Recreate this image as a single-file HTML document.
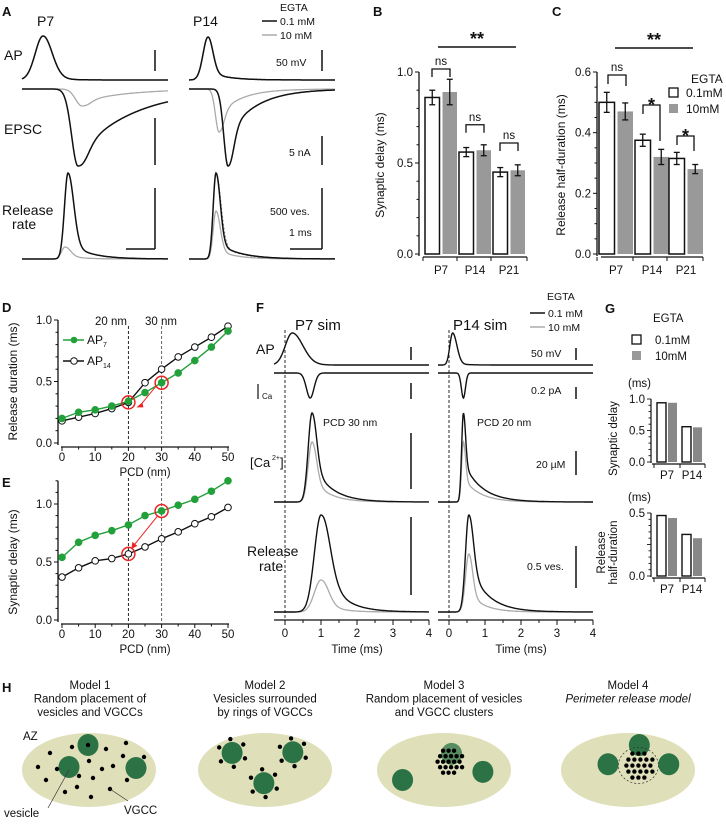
<!DOCTYPE html>
<html><head><meta charset="utf-8">
<style>
html,body{margin:0;padding:0;background:#fff;}
svg{display:block;font-family:"Liberation Sans",Arial,sans-serif;}
text{fill:#111;}
.pl{font-weight:bold;font-size:13px;}
.t{font-size:11.5px;}
.s{font-size:10.5px;}
</style></head>
<body>
<svg id="fig" width="726" height="824" viewBox="0 0 726 824" xmlns="http://www.w3.org/2000/svg">
<g id="A"></g>
<g id="B"></g>
<g id="C"></g>
<g id="D"></g>
<g id="E"></g>
<g id="F"></g>
<g id="G"></g>
<g id="H"></g>
</svg>
<script>
// ---------- data ----------
const barGroups = ["P7","P14","P21"];
const delayLow = [0.86,0.56,0.45];
const delayLowErr = [0.04,0.025,0.025];
const delayHigh = [0.89,0.57,0.46];
const delayHighErr = [0.07,0.03,0.03];
const halfLow = [0.50,0.375,0.315];
const halfLowErr = [0.033,0.02,0.02];
const halfHigh = [0.47,0.32,0.28];
const halfHighErr = [0.028,0.025,0.015];
const pcd = [0,5,10,15,20,25,30,35,40,45,50];
const durAP7 = [0.20,0.25,0.27,0.30,0.34,0.41,0.49,0.57,0.67,0.78,0.91];
const durAP14 = [0.18,0.21,0.24,0.28,0.33,0.49,0.60,0.70,0.78,0.86,0.95];
const delAP7 = [0.54,0.67,0.73,0.77,0.82,0.90,0.94,0.99,1.04,1.11,1.20];
const delAP14 = [0.37,0.45,0.51,0.53,0.57,0.63,0.70,0.76,0.83,0.89,0.97];
const simGroups = ["P7","P14"];
const simDelayLow = [0.94,0.56];
const simDelayHigh = [0.94,0.55];
const simHalfLow = [0.48,0.33];
const simHalfHigh = [0.46,0.30];
const yTicksB = ["0.0","0.5","1.0"];
const yTicksC = ["0.0","0.2","0.4","0.6"];
const xTicksDE = ["0","10","20","30","40","50"];
const xTicksF = ["0","1","2","3","4"];

const NS="http://www.w3.org/2000/svg";
function el(parent,tag,attrs,txt){const e=document.createElementNS(NS,tag);for(const k in attrs)e.setAttribute(k,attrs[k]);if(txt!==undefined)e.textContent=txt;parent.appendChild(e);return e;}
function line(p,x1,y1,x2,y2,st,w,extra){const e=el(p,'line',Object.assign({x1,y1,x2,y2,stroke:st||'#111','stroke-width':w||1},extra||{}));return e;}
function txt(p,x,y,s,cls,extra){const a=Object.assign({x,y,class:cls||'t'},extra||{});let st='';['font-size','font-weight','font-style'].forEach(k=>{if(a[k]!==undefined){st+=k+':'+a[k]+(k=='font-size'?'px':'')+';';delete a[k];}});if(st)a.style=st;return el(p,'text',a,s);}
function pulse(t,tp,sr,sf,tw,td){if(t<tp){return Math.exp(-Math.pow((t-tp)/sr,2));}const d=t-tp;const g2=Math.exp(-Math.pow(d/(sf*0.7),2));return (1-tw)*Math.exp(-Math.pow(d/sf,2))+tw*(Math.exp(-d/td)*(1-g2)+g2);}
function trace(p,x0,x1,base,amp,tp,sr,sf,tw,td,col,w,dash,name){let d='';for(let x=x0;x<=x1;x+=0.5){const y=base-amp*pulse(x,tp,sr,sf,tw,td);d+=(d?'L':'M')+x.toFixed(1)+','+y.toFixed(1);}const e=el(p,'path',{d,fill:'none',stroke:col,'stroke-width':w,'stroke-dasharray':dash||'none'});return e;}

// ---------- A ----------
(function(){const g=document.getElementById('A');
txt(g,2,16,'A','pl');txt(g,37,26,'P7','t',{'font-size':14});txt(g,193,26,'P14','t',{'font-size':14});
txt(g,280,11,'EGTA','s');line(g,262,21,277,21,'#111',1.5);txt(g,280,25,'0.1 mM','s');line(g,262,35,277,35,'#aaa',1.5);txt(g,280,39,'10 mM','s');
txt(g,4,60,'AP','t',{'font-size':14});txt(g,4,134,'EPSC','t',{'font-size':14});txt(g,2,215,'Release','t',{'font-size':14});txt(g,12,229,'rate','t',{'font-size':14});
// P7
trace(g,22,168,80,44,43,11,13,0.15,12,'#aaa',1.3,null,'p7-ap-10mm');
trace(g,22,168,80,44,43,11,13,0.15,12,'#111',1.5,null,'p7-ap-01mm');
trace(g,22,168,89,-17,82,9,12,0.75,45,'#aaa',1.3,null,'p7-epsc-10mm');
trace(g,22,168,89,-77,78,9,14,0.85,55,'#111',1.5,null,'p7-epsc-01mm');
trace(g,22,168,259,12,65,5,8,0.3,15,'#aaa',1.3,null,'p7-release-10mm');
trace(g,22,168,259,86,68,5,8,0.2,20,'#111',1.5,null,'p7-release-01mm');
// P14
trace(g,189,335,80,43,208,7,7,0.2,18,'#aaa',1.3,null,'p14-ap-10mm');
trace(g,189,335,80,43,208,7,7,0.2,18,'#111',1.5,null,'p14-ap-01mm');
trace(g,189,335,89,-43,219,5,7,0.6,22,'#aaa',1.3,null,'p14-epsc-10mm');
trace(g,189,335,89,-77,228,6,8,0.6,28,'#111',1.5,null,'p14-epsc-01mm');
trace(g,189,335,259,48,216,4,6,0.2,18,'#aaa',1.3,null,'p14-release-10mm');
trace(g,189,335,259,86,216,4,7,0.2,20,'#888',1,'2,2','p14-release-scaled');
trace(g,189,335,259,86,216,4,6,0.2,22,'#111',1.5,null,'p14-release-01mm');
// scale bars
line(g,155,50,155,71,'#111',1.5);line(g,155,118,155,165,'#111',1.5);line(g,155,188,155,249,'#111',1.5);line(g,126,249,155,249,'#111',1.5);
line(g,322,50,322,71,'#111',1.5);line(g,322,136,322,165,'#111',1.5);line(g,322,188,322,249,'#111',1.5);line(g,290,249,322,249,'#111',1.5);
txt(g,276,66,'50 mV','s');txt(g,289,156,'5 nA','s');txt(g,270,215,'500 ves.','s');txt(g,289,236,'1 ms','s');
})();

// ---------- bar chart helper ----------
function barChart(gid,cfg){const g=document.getElementById(gid);
const {ax,y0,yTop,vmax,ticks,minor,low,lowE,high,high_E,xs,w,xEnd}=cfg;
const Y=v=>y0-(v/vmax)*(y0-yTop);
line(g,ax,Y(vmax),ax,y0+2,'#111',1.3);
for(let i=0;i<=minor;i++){const v=vmax*i/minor;line(g,ax-(i%(minor/(ticks.length-1))==0?4:2.5),Y(v),ax,Y(v),'#111',1);}
ticks.forEach((t,i)=>{const v=vmax*i/(ticks.length-1);txt(g,ax-6,Y(v)+4,t,'t',{'text-anchor':'end'});});
line(g,ax+4,y0+3,xEnd,y0+3,'#111',1.3);
barGroups.forEach((c,i)=>{const x=xs[i];
 const b1=el(g,'rect',{x:x,y:Y(low[i]),width:w,height:y0-Y(low[i]),fill:'#fff',stroke:'#111','stroke-width':1.5});
 
 const b2=el(g,'rect',{x:x+w+3,y:Y(high[i]),width:w,height:y0-Y(high[i]),fill:'#999'});
 
 [[x+w/2,low[i],lowE[i]],[x+w*1.5+3,high[i],high_E[i]]].forEach(([cx,v,e])=>{line(g,cx,Y(v+e),cx,Y(v-e),'#111',1.3);line(g,cx-3,Y(v+e),cx+3,Y(v+e),'#111',1.3);line(g,cx-3,Y(v-e),cx+3,Y(v-e),'#111',1.3);});
 line(g,x-2,y0+3,x-2,y0+7,'#111',1);
 txt(g,x+w+1.5,y0+20,c,'t',{'text-anchor':'middle'});
});
line(g,xEnd,y0+3,xEnd,y0+7,'#111',1);
return {g,Y};}
(function(){const r=barChart('B',{ax:419,y0:254,yTop:72,vmax:1.0,ticks:yTicksB,minor:10,low:delayLow,lowE:delayLowErr,high:delayHigh,high_E:delayHighErr,xs:[425,459,493],w:14.5,xEnd:527});
const g=r.g,Y=r.Y;txt(g,373,16,'B','pl');
txt(g,384,165,'Synaptic delay (ms)','t',{transform:'rotate(-90 384 165)','text-anchor':'middle','font-size':12});
line(g,438,47,516,47,'#111',1.5);txt(g,477,45,'**','t',{'font-size':18,'font-weight':'bold','text-anchor':'middle'});
function br(x1,x2,y,l){el(g,'path',{d:`M${x1},${y+8}V${y}H${x2}V${y+8}`,fill:'none',stroke:'#111','stroke-width':1.3});txt(g,(x1+x2)/2,y-4,l,'t',{'text-anchor':'middle'});}
br(432,450,Y(1.0)-3,'ns');br(466,484,Y(0.71),'ns');br(500,518,Y(0.61),'ns');})();
(function(){const r=barChart('C',{ax:597,y0:254,yTop:72,vmax:0.6,ticks:yTicksC,minor:12,low:halfLow,lowE:halfLowErr,high:halfHigh,high_E:halfHighErr,xs:[599,635,669],w:15.5,xEnd:703});
const g=r.g,Y=r.Y;txt(g,552,16,'C','pl');
txt(g,565,165,'Release half-duration (ms)','t',{transform:'rotate(-90 565 165)','text-anchor':'middle','font-size':12});
line(g,615,48,693,48,'#111',1.5);txt(g,654,46,'**','t',{'font-size':18,'font-weight':'bold','text-anchor':'middle'});
txt(g,691,83,'EGTA','t',{'font-size':12});el(g,'rect',{x:669,y:88,width:9,height:9,fill:'#fff',stroke:'#111','stroke-width':1.3});txt(g,686,97,'0.1mM','t',{'font-size':12});
el(g,'rect',{x:669,y:104,width:9,height:9,fill:'#999'});txt(g,686,113,'10mM','t',{'font-size':12});
function br(x1,x2,y,h2,l,star){el(g,'path',{d:`M${x1},${y+9}V${y}H${x2}V${y+h2}`,fill:'none',stroke:'#111','stroke-width':1.3});txt(g,(x1+x2)/2,y+(star?6:-4),l,'t',star?{'text-anchor':'middle','font-size':18,'font-weight':'bold'}:{'text-anchor':'middle'});}
br(608,626,75,11,'ns',false);br(643,660,105,36,'*',true);br(677,694,136,15,'*',true);})();

// ---------- D/E ----------
function lineChart(gid,cfg){const g=document.getElementById(gid);
const {y0,y1,yTopV,s7,s14,lab,title}=cfg;const X=v=>62+v/50*166;const Y=v=>y0-v*(y0-y1);
txt(g,2,lab.y,lab.l,'pl');
line(g,58,Y(yTopV),58,y0+2,'#111',1.3);
for(let v=0;v<=yTopV+0.001;v+=0.1){const maj=Math.abs(v*2-Math.round(v*2))<0.01;line(g,maj?54:55.5,Y(v),58,Y(v),'#111',1);}
["0.0","0.5","1.0"].forEach((t,i)=>txt(g,52,Y(i*0.5)+4,t,'t',{'text-anchor':'end'}));
line(g,61,y0+4,229,y0+4,'#111',1.3);
for(let v=0;v<=50;v+=5)line(g,X(v),y0+4,X(v),y0+(v%10==0?8:6.5),'#111',1);
xTicksDE.forEach(t=>txt(g,X(+t),y0+18,t,'t',{'text-anchor':'middle'}));
txt(g,145,y0+33,'PCD (nm)','t',{'text-anchor':'middle'});
txt(g,17,(y0+Y(1))/2,title,'t',{transform:`rotate(-90 17 ${(y0+Y(1))/2})`,'text-anchor':'middle','font-size':12});
line(g,X(20),cfg.dtop,X(20),y0+2,'#111',0.9,{'stroke-dasharray':'3,2'});line(g,X(30),cfg.dtop,X(30),y0+2,'#555',0.9,{'stroke-dasharray':'3,2'});
[[s14,'#111','#fff','ap14'],[s7,'#22a03a','#22a03a','ap7']].forEach(([s,c,f,n])=>{
 el(g,'polyline',{points:pcd.map((p,i)=>X(p)+','+Y(s[i])).join(' '),fill:'none',stroke:c,'stroke-width':1.4});
 pcd.forEach((p,i)=>{const m=el(g,'circle',{cx:X(p),cy:Y(s[i]),r:3.3,fill:f,stroke:c,'stroke-width':1});});});
return {g,X,Y};}
(function(){const r=lineChart('D',{y0:443,y1:320,yTopV:1.0,s7:durAP7,s14:durAP14,lab:{y:312,l:'D'},title:'Release duration (ms)',dtop:326});
const g=r.g,X=r.X,Y=r.Y;txt(g,95,325,'20 nm','t');txt(g,145,325,'30 nm','t');
line(g,63,340,84,340,'#22a03a',1.4);el(g,'circle',{cx:74,cy:340,r:3.3,fill:'#22a03a'});txt(g,87,344,'AP','t',{'font-size':12});txt(g,103,347,'7','t',{'font-size':7});
line(g,63,361,84,361,'#111',1.4);el(g,'circle',{cx:74,cy:361,r:3.3,fill:'#fff',stroke:'#111'});txt(g,87,365,'AP','t',{'font-size':12});txt(g,103,368,'14','t',{'font-size':7});
el(g,'circle',{cx:X(20),cy:Y(durAP14[4]),r:6.5,fill:'none',stroke:'#e22','stroke-width':1.5});el(g,'circle',{cx:X(30),cy:Y(durAP7[6]),r:6.5,fill:'none',stroke:'#e22','stroke-width':1.5});
line(g,X(30)-6,Y(durAP7[6])+4,X(20)+11,Y(durAP14[4])+4,'#e22',1);el(g,'path',{d:`M${X(20)+8},${Y(durAP14[4])+5}l6,-5l1,5z`,fill:'#e22'});})();
(function(){const r=lineChart('E',{y0:620,y1:504,yTopV:1.2,s7:delAP7,s14:delAP14,lab:{y:487,l:'E'},title:'Synaptic delay (ms)',dtop:478});
const g=r.g,X=r.X,Y=r.Y;
el(g,'circle',{cx:X(30),cy:Y(delAP7[6]),r:6.5,fill:'none',stroke:'#e22','stroke-width':1.5});el(g,'circle',{cx:X(20),cy:Y(delAP14[4]),r:6.5,fill:'none',stroke:'#e22','stroke-width':1.5});
line(g,X(30)-4,Y(delAP7[6])+5,X(20)+5,Y(delAP14[4])-8,'#e22',1);el(g,'path',{d:`M${X(20)+3},${Y(delAP14[4])-5}l1,-7l5,4z`,fill:'#e22'});})();

// ---------- F ----------
(function(){const g=document.getElementById('F');
txt(g,256,312,'F','pl');txt(g,295,330,'P7 sim','t',{'font-size':15});txt(g,453,330,'P14 sim','t',{'font-size':15});
txt(g,547,300,'EGTA','s');line(g,530,313,545,313,'#111',1.5);txt(g,548,317,'0.1 mM','s');line(g,530,327,545,327,'#aaa',1.5);txt(g,548,331,'10 mM','s');
txt(g,256,354,'AP','t',{'font-size':14});line(g,258,384,258,399,'#111',1.2);txt(g,262,399,'Ca','t',{'font-size':8});
txt(g,250,467,'[Ca','t',{'font-size':13});txt(g,272,460,'2+','t',{'font-size':7});txt(g,280,467,']','t',{'font-size':13});
txt(g,247,556,'Release','t',{'font-size':14});txt(g,259,571,'rate','t',{'font-size':14});
[[285,'p7',0.2,0.7,0.75,1.0,0.3,0.15,0.15,0.2,1.0],[449,'p14',0.1,0.4,0.4,0.55,0.12,0.08,0.07,0.1,0.55]].forEach(([x0,n,tAP,tCa,tC,tR,aw,cw,crw,rw,gr])=>{
 const X=t=>x0+t*36;const xs=x0-11,xe=x0+144;
 function tr(base,amp,tp,sr,sf,tw,td,col,w,name){let d='';for(let x=xs;x<=xe;x+=0.5){const t=(x-x0)/36;let v=pulse(t,tp,sr,sf,tw,td);if(t<tp-3*sr)v=0;const y=base-amp*v;d+=(d?'L':'M')+x.toFixed(1)+','+y.toFixed(1);}const e=el(g,'path',{d,fill:'none',stroke:col,'stroke-width':w});}
 tr(365,32,tAP,aw*0.9,aw*1.4,0.05,0.3,'#111',1.4,n+'-sim-ap');
 tr(373,-25,tCa,cw,cw,0,1,'#111',1.4,n+'-sim-ica');
 tr(502,60,tC,crw,crw*1.2,0.4,0.45,'#aaa',1.3,n+'-sim-ca-10mm');
 tr(502,89,tC,crw,crw*1.2,0.45,0.5,'#111',1.4,n+'-sim-ca-01mm');
 tr(612,n=='p7'?32:58,tR,rw*1.3,rw*1.5,0.35,0.4,'#aaa',1.3,n+'-sim-release-10mm');
 tr(612,97,tR,rw*1.3,rw*1.8,0.5,0.5,'#111',1.4,n+'-sim-release-01mm');
 line(g,X(0),330,X(0),620,'#111',0.9,{'stroke-dasharray':'3,2'});
 line(g,xs,620,X(4),620,'#111',1.3);
 for(let t=0;t<=4;t+=0.5)line(g,X(t),620,X(t),t%1==0?625:623,'#111',1);
 xTicksF.forEach(t=>txt(g,X(+t),637,t,'t',{'text-anchor':'middle'}));
 txt(g,X(2),653,'Time (ms)','t',{'text-anchor':'middle'});
});
line(g,411,347,411,360,'#111',1.5);line(g,411,383,411,399,'#111',1.5);line(g,411,433,411,489,'#111',1.5);line(g,411,517,411,595,'#111',1.5);
line(g,576,348,576,360,'#111',1.5);line(g,576,387,576,399,'#111',1.5);line(g,576,451,576,475,'#111',1.5);line(g,576,546,576,588,'#111',1.5);
txt(g,531,357,'50 mV','s');txt(g,531,394,'0.2 pA','s');txt(g,536,468,'20 µM','s');txt(g,527,570,'0.5 ves.','s');
txt(g,323,426,'PCD 30 nm','s');txt(g,477,426,'PCD 20 nm','s');})();

// ---------- G ----------
(function(){const g=document.getElementById('G');
txt(g,605,313,'G','pl');txt(g,653,322,'EGTA','t');
el(g,'rect',{x:632,y:335,width:9,height:9,fill:'#fff',stroke:'#111','stroke-width':1.3});txt(g,655,344,'0.1mM','t');
el(g,'rect',{x:632,y:351,width:9,height:9,fill:'#999'});txt(g,655,360,'10mM','t');
function mini(y0,yTop,vmax,lab,low,high,title,titleLines){
 const Y=v=>y0-v/vmax*(y0-yTop);
 line(g,651,yTop,651,y0+1,'#111',1.2);
 for(let i=0;i<=10;i++){const v=vmax*i/10;line(g,i%5==0?647:648.5,Y(v),651,Y(v),'#111',0.9);}
 lab.forEach((t,i)=>txt(g,645,Y(i*vmax/(lab.length-1))+4,t,'t',{'text-anchor':'end'}));
 line(g,652,y0+2,705,y0+2,'#111',1.2);[654,680,705].forEach(x=>line(g,x,y0+2,x,y0+6,'#111',1));
 simGroups.forEach((c,i)=>{const x=[657,682][i];
  const a=el(g,'rect',{x:x,y:Y(low[i]),width:9,height:y0-Y(low[i]),fill:'#fff',stroke:'#111','stroke-width':1.4});
  
  const b=el(g,'rect',{x:x+11,y:Y(high[i]),width:9,height:y0-Y(high[i]),fill:'#888'});
  
  txt(g,x+10,y0+17,c,'t',{'text-anchor':'middle'});});
 txt(g,628,yTop-12,'(ms)','t');
 titleLines.forEach((l,k)=>txt(g,617+k*12-(titleLines.length-1)*12,(y0+yTop)/2+8,l,'t',{transform:`rotate(-90 ${617+k*12-(titleLines.length-1)*12} ${(y0+yTop)/2+8})`,'text-anchor':'middle'}));}
mini(462,399,1.0,["0.0","0.5","1.0"],simDelayLow,simDelayHigh,'',['Synaptic delay']);
mini(576,513,0.5,["0.0","0.5"],simHalfLow,simHalfHigh,'',['Release','half-duration']);})();

// ---------- H ----------
(function(){const g=document.getElementById('H');
txt(g,2,692,'H','pl');
const X=z=>z*0.467-1.4, Y=z=>683+z*0.315;
const titles=[[90,['Model 1','Random placement of','vesicles and VGCCs']],[265,['Model 2','Vesicles surrounded','by rings of VGCCs']],[444,['Model 3','Random placement of vesicles','and VGCC clusters']],[628,['Model 4','Perimeter release model']]];
titles.forEach(([cx,ls],k)=>ls.forEach((l,i)=>txt(g,cx,689+i*13.5,l,'t',Object.assign({'text-anchor':'middle'},(k==3&&i==1)?{'font-style':'italic'}:{}))));
const ells=[89,265,444,628];
ells.forEach((cx,i)=>{const e=el(g,'ellipse',{cx,cy:770,rx:67,ry:37,fill:'#dfdfb9'});});
const GREEN='#2b7244';
function ves(x,y,op){el(g,'ellipse',{cx:x,cy:y,rx:10.5,ry:11,fill:GREEN,opacity:op||1});}
function dot(x,y){el(g,'circle',{cx:x,cy:y,r:2.2,fill:'#000'});}
txt(g,23,740,'AZ','t');
// model 1
ves(88,745);ves(69,767);ves(136,768);
[[50,753],[38,767],[46,780],[65,792],[77,787],[91,797],[110,789],[79,776],[93,778],[102,769],[113,766],[89,761],[72,747],[106,749],[123,756],[126,743],[144,757],[127,780],[57,769],[88,745]].forEach(p=>dot(p[0],p[1]));
line(g,69,770,48,808,'#333',0.7);line(g,110,789,128,801,'#333',0.7);
txt(g,4,817,'vesicle','t');txt(g,124,814,'VGCC','t');
// model 2
[[X(500),Y(222)],[X(630),Y(220)],[X(568),Y(318)]].forEach(([x,y])=>{ves(x,y);for(let a=0;a<6;a++){const an=a/6*Math.PI*2+0.4;dot(x+14*Math.cos(an),y+14*Math.sin(an));}});
// model 3
ves(X(970),Y(225),0.75);ves(X(865),Y(308));ves(X(1037),Y(282));
for(let r=0;r<5;r++)for(let c=0;c<5;c++){if((r==0&&(c==0||c==4))||(r==4&&(c==0||c==4)))continue;dot(X(940)+c*5.5+(r%2)*2.5,Y(215)+r*5.5);}
// model 4
ves(X(1372),Y(197));ves(X(1305),Y(258));ves(X(1435),Y(258));
el(g,'ellipse',{cx:X(1370),cy:Y(262),rx:20,ry:18,fill:'none',stroke:'#333','stroke-width':0.7,'stroke-dasharray':'2,2'});
for(let r=0;r<5;r++)for(let c=0;c<5;c++){if((r==0&&(c==0||c==4))||(r==4&&(c==0||c==4)))continue;dot(X(1370)-12+c*6+(r%2)*2,Y(262)-12+r*6);}
})();
</script>
</body></html>
